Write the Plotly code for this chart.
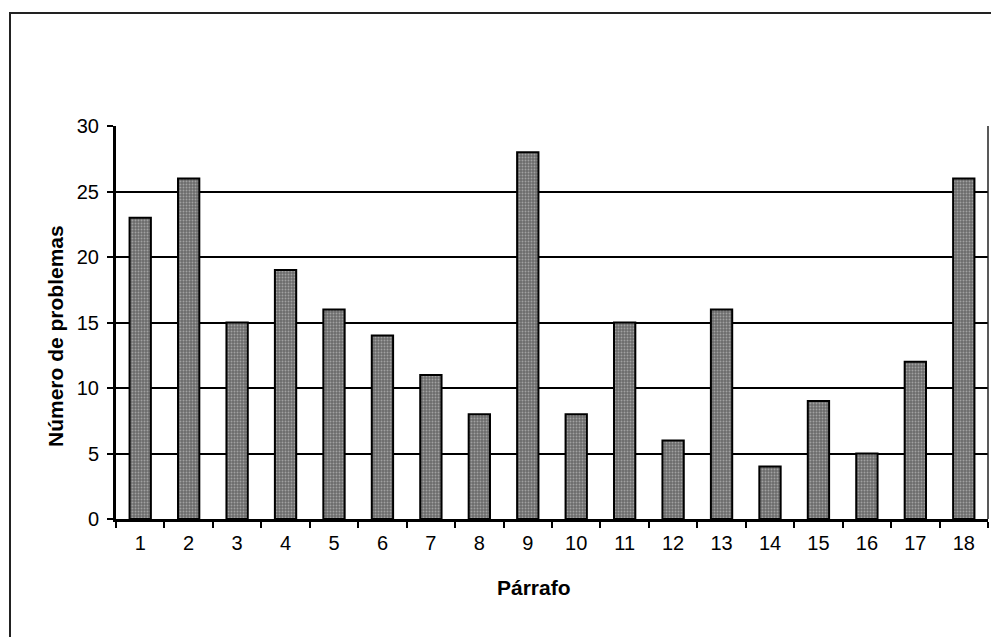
import plotly.graph_objects as go

categories = [str(i) for i in range(1, 19)]
values = [23, 26, 15, 19, 16, 14, 11, 8, 28, 8, 15, 6, 16, 4, 9, 5, 12, 26]
y_ticks = [0, 5, 10, 15, 20, 25, 30]

# page body has an 8px default margin; work in screen pixels and offset
OFF = 8
W, H = 999 - OFF, 637 - OFF
L, R, T, B = 116 - OFF, 988 - OFF, 126 - OFF, 519 - OFF

fig = go.Figure()
fig.add_trace(go.Bar(
    x=categories, y=values,
    marker=dict(
        color="#8a8a8a",
        line=dict(color="black", width=2),
        pattern=dict(shape=".", fgcolor="#d8d8d8", bgcolor="#6a6a6a", size=3, solidity=0.35),
    ),
    width=0.44,
))

def px_x(px):
    return (px - OFF - L) / (R - L)

def px_y(py):
    return (B - (py - OFF)) / (B - T)

fig.update_layout(
    width=W, height=H,
    margin=dict(l=L, r=W - R, t=T, b=H - B),
    paper_bgcolor="white", plot_bgcolor="white",
    showlegend=False,
    font=dict(family="Liberation Sans, Arial", size=20, color="black"),
    xaxis=dict(
        type="category", range=[-0.5, 17.5],
        showline=True, linecolor="black", linewidth=2.5,
        ticks="outside", ticklen=6, tickwidth=2, tickcolor="black",
        tickson="boundaries", showgrid=False,
        tickfont=dict(size=20), ticklabelstandoff=4,
    ),
    yaxis=dict(
        range=[0, 30], tickvals=y_ticks,
        showline=True, linecolor="black", linewidth=3,
        ticks="outside", ticklen=6, tickwidth=2, tickcolor="black",
        showgrid=True, gridcolor="black", gridwidth=2,
        zeroline=False, tickfont=dict(size=20), ticklabelstandoff=4,
    ),
    shapes=[
        dict(type="rect", xref="paper", yref="paper",
             x0=px_x(10), x1=px_x(1010), y0=px_y(650), y1=px_y(13),
             line=dict(color="#222", width=2), layer="below"),
        dict(type="line", xref="paper", yref="paper",
             x0=1, x1=1, y0=0, y1=1, line=dict(color="#222", width=1.5)),
    ],
    annotations=[
        dict(text="<b>Número de problemas</b>", xref="paper", yref="paper",
             x=px_x(55), y=px_y(336), textangle=-90, showarrow=False,
             font=dict(size=21), xanchor="center", yanchor="middle"),
        dict(text="<b>Párrafo</b>", xref="paper", yref="paper",
             x=px_x(534), y=px_y(587), showarrow=False,
             font=dict(size=21), xanchor="center", yanchor="middle"),
    ],
)

fig.write_html("out.html")
